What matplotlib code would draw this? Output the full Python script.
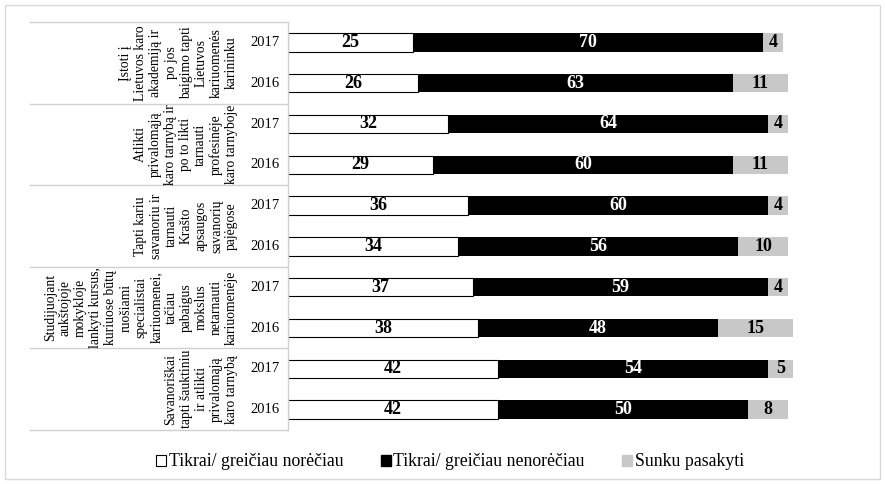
import matplotlib.pyplot as plt
import matplotlib.transforms as mtransforms
from matplotlib.patches import Patch

plt.rcParams["font.family"] = ["Liberation Serif", "DejaVu Serif"]

# Data (top to bottom: each group has 2017 then 2016)
groups = [
    "Įstoti į\nLietuvos karo\nakademiją ir\npo jos\nbaigimo tapti\nLietuvos\nkariuomenės\nkarininku",
    "Atlikti\nprivalomąją\nkaro tarnybą ir\npo to likti\ntarnauti\nprofesinėje\nkaro tarnyboje",
    "Tapti kariu\nsavanoriu ir\ntarnauti\nKrašto\napsaugos\nsavanorių\npajėgose",
    "Studijuojant\naukštojoje\nmokykloje\nlankyti kursus,\nkuriuose būtų\nruošiami\nspecialistai\nkariuomenei,\ntačiau\npabaigus\nmokslus\nnetarnauti\nkariuomenėje",
    "Savanoriškai\ntapti šauktiniu\nir atlikti\nprivalomąją\nkaro tarnybą",
]
years = ["2017", "2016"]
would = [25, 26, 32, 29, 36, 34, 37, 38, 42, 42]
would_not = [70, 63, 64, 60, 60, 56, 59, 48, 54, 50]
hard_to_say = [4, 11, 4, 11, 4, 10, 4, 15, 5, 8]

series_names = ["Tikrai/ greičiau norėčiau", "Tikrai/ greičiau nenorėčiau", "Sunku pasakyti"]
gray = "#c8c8c8"
line_gray = "#d0d0d0"

W, H = 885, 484
fig = plt.figure(figsize=(W / 100, H / 100), dpi=100)

# outer frame
fig.patches.append(plt.Rectangle((5 / W, 5 / H), (W - 10) / W, (H - 10) / H,
                                 transform=fig.transFigure, fill=False,
                                 edgecolor="#d9d9d9", linewidth=1))

ax_left, ax_right = 288 / W, 798 / W
ax_top, ax_bottom = 1 - 22 / H, 1 - 430 / H
ax = fig.add_axes([ax_left, ax_bottom, ax_right - ax_left, ax_top - ax_bottom])

n = len(would)
ypos = [i + 0.5 for i in range(n)]
bh = 0.45

left2 = [a for a in would]
left3 = [a + b for a, b in zip(would, would_not)]
ax.barh(ypos, would, height=bh, color="white", edgecolor="black", linewidth=0.8)
ax.barh(ypos, would_not, left=left2, height=bh, color="black", edgecolor="black", linewidth=0)
ax.barh(ypos, hard_to_say, left=left3, height=bh, color=gray, linewidth=0)

for y, a, b, c in zip(ypos, would, would_not, hard_to_say):
    ax.text(a / 2, y, str(a), ha="center", va="center", fontsize=13,
            fontweight="bold", color="black")
    ax.text(a + b / 2, y, str(b), ha="center", va="center", fontsize=13,
            fontweight="bold", color="white")
    ax.text(a + b + c / 2, y, str(c), ha="center", va="center", fontsize=13,
            fontweight="bold", color="black")

ax.set_xlim(0, 102)
ax.set_ylim(n, 0)
ax.axis("off")

# category area on the left: figure x, data y
trans = mtransforms.blended_transform_factory(fig.transFigure, ax.transData)
x0, x1 = 30 / W, 288 / W
for k in range(len(groups) + 1):
    ax.plot([x0, x1], [2 * k, 2 * k], color=line_gray, linewidth=1,
            transform=trans, clip_on=False)
ax.plot([x1, x1], [0, n], color=line_gray, linewidth=1, transform=trans, clip_on=False)

for k, label in enumerate(groups):
    ax.text(238 / W, 2 * k + 1, label, transform=trans, rotation=90,
            ha="right", va="center", multialignment="center",
            fontsize=9.8, linespacing=1.21)
    for j, yr in enumerate(years):
        ax.text(265 / W, 2 * k + j + 0.5, yr, transform=trans,
                ha="center", va="center", fontsize=10.5)

handles = [
    Patch(facecolor="white", edgecolor="black", linewidth=0.8),
    Patch(facecolor="black", edgecolor="black"),
    Patch(facecolor=gray, edgecolor=gray),
]
fig.legend(handles, series_names, loc="center", bbox_to_anchor=(450 / W, 1 - 462 / H),
           ncol=3, frameon=False, prop={"family": "Liberation Serif", "size": 12.8},
           handlelength=0.55, handleheight=0.55, handletextpad=0.15, columnspacing=2.1)

fig.savefig("out.png", dpi=100)
